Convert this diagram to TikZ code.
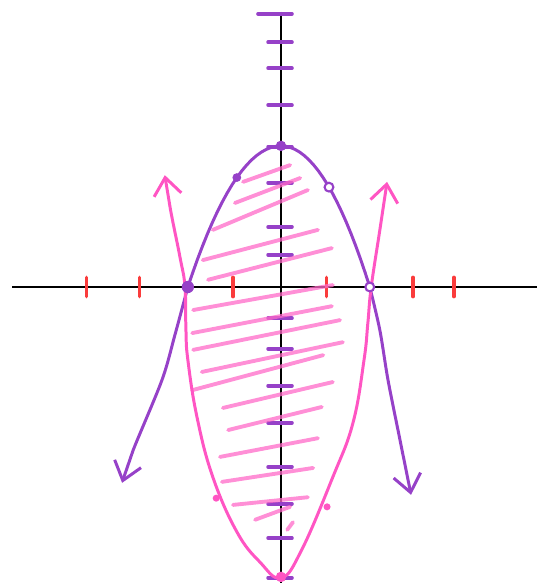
\documentclass[tikz,border=0pt]{standalone}
\usepackage{xcolor}
\usepackage{tikz}
\usetikzlibrary{arrows.meta}
\definecolor{curvepurple}{RGB}{150,65,200}
\definecolor{curvepink}{RGB}{255,85,195}
\definecolor{hatchpink}{RGB}{255,105,200}
\definecolor{tickred}{RGB}{250,60,60}
\tikzset{
	axis/.style={black, line width=1.3pt},
	ytick/.style={curvepurple, line width=2pt, line cap=round},
	xtick/.style={tickred, line width=2pt, line cap=round},
	purplecurve/.style={curvepurple, line width=1.7pt},
	pinkcurve/.style={curvepink, line width=1.7pt},
	hatch/.style={hatchpink, line width=2.2pt, line cap=round, opacity=0.75},
	barbs/.style={{Straight Barb[length=3.5mm,width=5.5mm]}-{Straight Barb[length=3.5mm,width=5.5mm]}},
	plotdot/.style={circle, fill=#1, inner sep=0pt, minimum size=5pt},
	opendot/.style={circle, draw=#1, fill=white, line width=1.2pt, inner sep=0pt, minimum size=5pt},
}

\begin{document}
\begin{tikzpicture}[x=0.96cm,y=0.96cm]
	\useasboundingbox (-5.854,-6.167) rectangle (5.333,5.979);

	% Axes
	\draw[axis] (-5.6,0) -- (5.333,0);
	\draw[axis] (0,5.73) -- (0,-6.17);

	% Ticks
	\foreach \x in {-4.05,-2.95,-1,0.95,2.75,3.6}
		\draw[xtick] (\x,-0.2) -- (\x,0.2);
	\foreach \y in {5.10,4.56,3.79,2.92,2.17,1.25,0.67,-0.65,-1.29,-2.06,-2.83,-3.75,-4.52,-5.23,-6.06}
		\draw[ytick] (-0.27,\y) -- (0.23,\y);
	\draw[ytick] (-0.48,5.69) -- (0.23,5.69);

	% Hatching between the curves
	\foreach \xa/\ya/\xb/\yb in {
		-0.79/2.19/0.19/2.54, -0.96/1.75/0.40/2.27, -1.42/1.19/0.56/2.02,
		-1.63/0.56/0.77/1.19, -1.52/0.15/1.06/0.81, -1.83/-0.48/1.08/0.04,
		-1.85/-0.96/1.06/-0.40, -1.83/-1.31/1.23/-0.69, -1.65/-1.77/1.29/-1.15,
		-1.85/-2.15/0.88/-1.42, -1.21/-2.52/1.08/-1.98, -1.10/-2.98/0.85/-2.50,
		-1.27/-3.54/0.77/-3.15, -1.23/-4.06/0.67/-3.77, -1.00/-4.54/0.56/-4.38,
		-0.54/-4.85/0.19/-4.58, 0.13/-5.06/0.25/-4.90}
		\draw[hatch] (\xa,\ya) -- (\xb,\yb);

	% Curves
	\draw[purplecurve, barbs]
		plot[smooth] coordinates {(-3.31,-4.08) (-3.08,-3.40) (-2.48,-1.94) (-2.21,-1.0) (-1.94,0)}
		-- plot[domain=-1.94:0, samples=20] (\x,{2.94-0.781*\x*\x})
		-- plot[domain=0:1.85, samples=20] (\x,{2.94-0.859*\x*\x})
		-- plot[smooth] coordinates {(1.85,0) (2.06,-0.9) (2.23,-1.94) (2.48,-3.19) (2.71,-4.33)};
	\draw[pinkcurve, barbs] plot[smooth, tension=0.7] coordinates {
		(-2.42,2.33) (-2.3,1.6) (-2.1,0.6) (-2.0,0) (-1.98,-0.9)
		(-1.94,-1.52) (-1.75,-2.71) (-1.42,-3.96) (-0.92,-5.10) (-0.44,-5.73)
		(0,-6.06) (0.42,-5.5) (1.08,-3.96) (1.5,-2.83) (1.73,-1.52)
		(1.81,-0.75) (1.88,0) (2.06,1.19) (2.21,2.19)};

	% Plotted points
	\node[plotdot=curvepurple, minimum size=6pt] (top) at (0,2.94) {};
	\node[plotdot=curvepurple] (upleft) at (-0.92,2.28) {};
	\node[opendot=curvepurple] (upright) at (1.0,2.08) {};
	\node[plotdot=curvepurple, minimum size=7pt] (rootleft) at (-1.94,0) {};
	\node[opendot=curvepurple] (rootright) at (1.85,0) {};
	\node[plotdot=curvepink, minimum size=6pt] (bottom) at (0,-6.04) {};
	\node[plotdot=curvepink, minimum size=4pt] (lowleft) at (-1.35,-4.40) {};
	\node[plotdot=curvepink, minimum size=4pt] (lowright) at (0.96,-4.58) {};
\end{tikzpicture}
\end{document}
